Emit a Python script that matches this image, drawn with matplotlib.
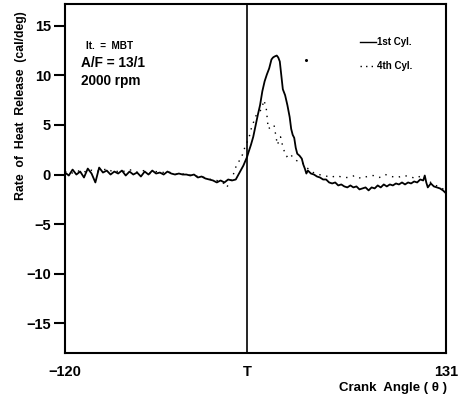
import matplotlib
matplotlib.use("Agg")
import matplotlib.pyplot as plt
from matplotlib.lines import Line2D

plt.rcParams['font.family'] = ['Liberation Sans', 'DejaVu Sans']
plt.rcParams['font.weight'] = 'bold'

# ---- data ----
cyl1_angle = [-120, -117.5, -115, -112.5, -110, -107.5, -105, -102.5, -100, -97.5,
              -95, -92.5, -90, -87.5, -85, -82.5, -80, -77.5, -75, -72.5,
              -70, -67.5, -65, -62.5, -60, -57.5, -55, -52.5, -50, -47.5,
              -45, -42.5, -40, -37.5, -35, -32.5, -30, -27.5, -25, -22.5,
              -20, -17.5, -15, -12.5, -10, -7.5, -5, -2.5, 0, 1,
              2.5, 4, 5.5, 7, 8.5, 10, 11.5, 13, 14.5, 16,
              17, 18, 19.5, 20.5, 21.5, 22.5, 23.5, 25, 26.5, 28,
              29, 30, 31, 32, 33, 34.5, 36, 37, 38, 39,
              40, 42, 44, 46, 48, 50, 52, 54, 56, 58,
              60, 62, 64, 66, 68, 70, 72, 74, 76, 78,
              80, 82, 84, 86, 88, 90, 92, 94, 96, 98,
              100, 102, 104, 106, 108, 110, 112, 114, 116, 117,
              118, 119, 121, 123, 125, 127, 129, 131]
cyl1_rate = [0.2, -0.1, 0.5, 0.0, 0.3, -0.3, 0.6, 0.1, -0.8, 0.7,
             0.2, 0.4, 0.0, 0.3, 0.1, 0.4, -0.1, 0.3, 0.0, 0.2,
             -0.2, 0.3, 0.0, 0.4, 0.1, 0.2, 0.0, 0.3, 0.1, 0.0,
             0.1, 0.0, 0.0, -0.1, 0.0, -0.3, -0.2, -0.4, -0.5, -0.6,
             -0.8, -0.6, -0.8, -0.5, -0.6, -0.5, 0.2, 0.9, 1.8, 2.3,
             3.0, 3.8, 4.9, 6.0, 7.0, 8.4, 9.4, 10.1, 10.7, 11.6,
             11.8, 11.9, 12.0, 11.8, 11.4, 10.0, 8.6, 8.0, 7.0, 5.8,
             4.6, 4.0, 3.7, 2.7, 2.1, 1.9, 1.6, 1.0, 0.6, 0.1,
             0.4, 0.1, 0.0, -0.2, -0.3, -0.5, -0.5, -0.8, -0.9, -0.8,
             -1.1, -1.0, -1.2, -1.3, -1.1, -1.3, -1.2, -1.5, -1.4, -1.3,
             -1.6, -1.3, -1.4, -1.1, -1.3, -1.0, -1.2, -1.0, -1.1, -0.9,
             -1.0, -0.8, -1.0, -0.8, -0.9, -0.7, -0.8, -0.5, -0.6, -0.1,
             -0.8, -1.3, -0.9, -1.2, -1.3, -1.4, -1.6, -1.9]

cyl4_angle = [-120, -116, -112, -108, -104, -100, -96, -92, -88, -84,
              -80, -76, -72, -68, -64, -60, -56, -52, -48, -44,
              -40, -36, -32, -28, -24, -20, -16, -13.5, -10, -6.7,
              -4, -1.4, 1, 3, 6, 9.6, 11, 12.5, 13.9, 15.5,
              17.7, 19.9, 22, 23.8, 26, 28.2, 30.3, 32.6, 35, 37,
              40, 43.6, 47, 51, 55, 59, 63, 67, 71, 75,
              79, 83, 87, 91, 95, 99, 103, 107, 111, 115,
              119, 123, 127, 131]
cyl4_rate = [0.3, 0.1, 0.4, 0.2, 0.5, 0.3, 0.4, 0.6, 0.2, 0.4,
             0.3, 0.5, 0.2, 0.4, 0.1, 0.3, 0.2, 0.3, 0.0, 0.1,
             0.0, -0.1, -0.2, -0.3, -0.5, -0.6, -0.8, -1.3, -0.4, 1.1,
             1.6, 2.8, 3.6, 4.8, 6.0, 6.6, 7.5, 6.8, 4.6, 4.8,
             5.0, 3.0, 3.8, 2.6, 1.8, 2.1, 1.7, 1.4, 1.3, 1.1,
             0.6, 0.2, 0.0, -0.1, -0.3, -0.1, -0.3, -0.3, -0.1, -0.4,
             -0.2, -0.1, -0.3, 0.0, -0.2, -0.3, -0.1, -0.2, -0.4, -0.1,
             -0.6, -1.0, -1.3, -1.6]

stray_angle = [38.8]
stray_rate = [11.6]

yticks = [15, 10, 5, 0, -5, -10, -15]
xtick_pos = [-120, 0, 131]
xtick_labels = ['\u2212120', 'T', '131']

# ---- figure ----
fig = plt.figure(figsize=(4.62, 3.99), dpi=100)
ax = fig.add_axes([0.1407, 0.1153, 0.8247, 0.8747])
ax.set_xlim(-120, 131)
ax.set_ylim(-18.0, 17.2)

ax.plot(cyl1_angle, cyl1_rate, color='black', lw=1.3)
ax.plot(cyl4_angle, cyl4_rate, color='black', lw=1.0, linestyle=(0, (1, 4)))
ax.plot(stray_angle, stray_rate, linestyle='none', marker='o', ms=1.2, color='black')
ax.axvline(0, color='black', lw=1.2)

for s in ax.spines.values():
    s.set_linewidth(1.5)

ax.set_yticks(yticks)
ax.set_yticklabels([f'{v}'.replace('-', '\u2212') for v in yticks], fontsize=10.5, fontweight='bold')
ax.tick_params(axis='y', direction='out', length=8, width=1.5, pad=2)
ax.set_xticks(xtick_pos)
ax.set_xticklabels(xtick_labels, fontsize=10.5, fontweight='bold')
ax.tick_params(axis='x', length=0, pad=9)

fig.text(0.045, 0.735, 'Rate  of  Heat  Release  (cal/deg)', rotation=90,
         ha='center', va='center', fontsize=8.8, fontweight='bold')
fig.text(0.967, 0.027, 'Crank  Angle ( \u03b8 )', ha='right', va='center',
         fontsize=9.5, fontweight='bold')

ax.text(0.055, 0.88, 'It.  =  MBT', transform=ax.transAxes, fontsize=7.2, fontweight='bold', va='center')
ax.text(0.043, 0.832, 'A/F = 13/1', transform=ax.transAxes, fontsize=9.8, fontweight='bold', va='center')
ax.text(0.043, 0.78, '2000 rpm', transform=ax.transAxes, fontsize=9.8, fontweight='bold', va='center')

# legend (drawn manually to match placement)
ax.add_line(Line2D([0.775, 0.815], [0.89, 0.89], transform=ax.transAxes, color='black', lw=1.0))
ax.text(0.82, 0.89, '1st Cyl.', transform=ax.transAxes, fontsize=7, fontweight='bold', va='center')
ax.add_line(Line2D([0.775, 0.815], [0.822, 0.822], transform=ax.transAxes, color='black', lw=1.0,
                   linestyle=(0, (1, 3))))
ax.text(0.818, 0.822, '4th Cyl.', transform=ax.transAxes, fontsize=7, fontweight='bold', va='center')

fig.savefig('out.png', dpi=100)
